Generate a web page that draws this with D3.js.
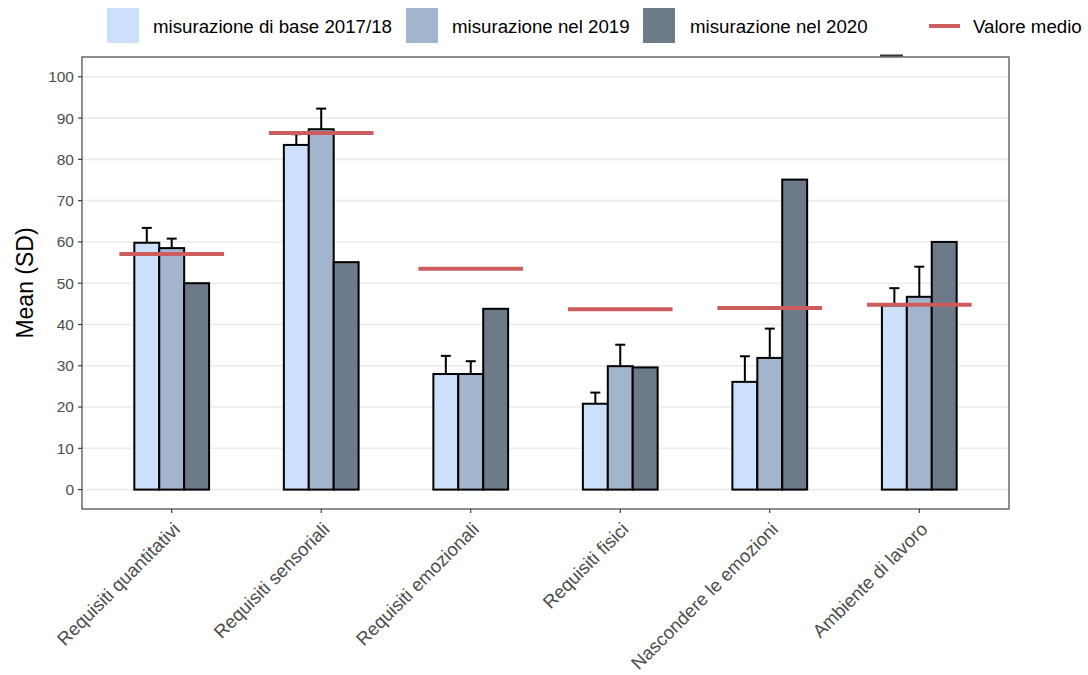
<!DOCTYPE html>
<html><head><meta charset="utf-8">
<script src="https://cdn.jsdelivr.net/npm/d3@7"></script>
<style>body{margin:0;background:#fff}svg{display:block;font-family:"Liberation Sans",Arial,sans-serif}</style>
</head><body><svg id="c" width="1088" height="675"></svg>
<script>
const categories = ["Requisiti quantitativi","Requisiti sensoriali","Requisiti emozionali","Requisiti fisici","Nascondere le emozioni","Ambiente di lavoro"];
const seriesNames = ["misurazione di base 2017/18","misurazione nel 2019","misurazione nel 2020"];
const valuesBase = [59.8, 83.5, 28.0, 20.8, 26.1, 44.6];
const values2019 = [58.5, 87.3, 28.0, 29.9, 31.9, 46.7];
const values2020 = [50.0, 55.1, 43.8, 29.6, 75.1, 60.0];
const sdBase = [3.6, 2.6, 4.4, 2.7, 6.2, 4.2];
const sd2019 = [2.3, 5.0, 3.1, 5.2, 7.1, 7.3];
const sd2020 = [null, null, null, null, null, null];
const meanValues = [57.1, 86.4, 53.5, 43.7, 44.0, 44.8];
const yTicks = [0,10,20,30,40,50,60,70,80,90,100];
const meanLabel = "Valore medio";
const yTitle = "Mean (SD)";

const colors = ["#cce0fc", "#a3b5cd", "#6c7a8a"];
const meanColor = "#cd5c5c";
const svg = d3.select("#c");
const P = {l: 82, r: 1009, t: 57, b: 509};

const step = (P.r - P.l) / 6.2;
const xc = d3.scalePoint().domain(categories).range([P.l + 0.6*step, P.r - 0.6*step]);
const xs = d3.scaleBand().domain(seriesNames).range([-0.25*step, 0.25*step]);
const y = d3.scaleLinear().domain([-4.7, 104.8]).range([P.b, P.t]);

const g = svg.append("g");
g.selectAll("line.grid").data(yTicks).join("line")
  .attr("x1", P.l).attr("x2", P.r).attr("y1", d=>y(d)).attr("y2", d=>y(d))
  .attr("stroke", "#ebebeb").attr("stroke-width", 1.6);

const series = [valuesBase, values2019, values2020];
const sds = [sdBase, sd2019, sd2020];
const rows = [];
categories.forEach((c,i)=>seriesNames.forEach((s,j)=>rows.push({c, s, j, v: series[j][i], sd: sds[j][i]})));

g.selectAll("rect.bar").data(rows).join("rect")
  .attr("x", d=>xc(d.c)+xs(d.s)).attr("width", xs.bandwidth())
  .attr("y", d=>y(d.v)).attr("height", d=>y(0)-y(d.v))
  .attr("fill", d=>colors[d.j]).attr("stroke", "#000").attr("stroke-width", 2);

const errs = rows.filter(d=>d.sd!=null);
const ex = d=>xc(d.c)+xs(d.s)+xs.bandwidth()/2;
const eb = g.selectAll("g.err").data(errs).join("g");
eb.append("line").attr("x1", ex).attr("x2", ex)
  .attr("y1", d=>y(d.v)).attr("y2", d=>y(d.v+d.sd)).attr("stroke", "#000").attr("stroke-width", 2);
eb.append("line").attr("x1", d=>ex(d)-5).attr("x2", d=>ex(d)+5)
  .attr("y1", d=>y(d.v+d.sd)).attr("y2", d=>y(d.v+d.sd)).attr("stroke", "#000").attr("stroke-width", 2);

g.selectAll("line.mean").data(categories).join("line")
  .attr("x1", c=>xc(c)-0.35*step).attr("x2", c=>xc(c)+0.35*step)
  .attr("y1", (c,i)=>y(meanValues[i])).attr("y2", (c,i)=>y(meanValues[i]))
  .attr("stroke", meanColor).attr("stroke-width", 4);

svg.append("rect").attr("x", P.l).attr("y", P.t).attr("width", P.r-P.l).attr("height", P.b-P.t)
  .attr("fill", "none").attr("stroke", "#333").attr("stroke-width", 1.1);
svg.append("line").attr("x1", 880).attr("x2", 903).attr("y1", 55.5).attr("y2", 55.5).attr("stroke", "#333").attr("stroke-width", 2);

const ya = svg.append("g");
ya.selectAll("line").data(yTicks).join("line")
  .attr("x1", P.l-4).attr("x2", P.l).attr("y1", d=>y(d)).attr("y2", d=>y(d)).attr("stroke", "#333").attr("stroke-width", 1.1);
ya.selectAll("text").data(yTicks).join("text")
  .attr("x", P.l-8).attr("y", d=>y(d)).attr("dy", "0.35em").attr("text-anchor", "end")
  .attr("font-size", 15.5).attr("fill", "#4d4d4d").text(d=>d);
svg.append("text").attr("transform", `translate(33,${(P.t+P.b)/2}) rotate(-90)`)
  .attr("text-anchor", "middle").attr("font-size", 23).attr("fill", "#000").text(yTitle);

const xa = svg.append("g");
xa.selectAll("line").data(categories).join("line")
  .attr("x1", d=>xc(d)).attr("x2", d=>xc(d)).attr("y1", P.b).attr("y2", P.b+4).attr("stroke", "#333").attr("stroke-width", 1.1);
xa.selectAll("text").data(categories).join("text")
  .attr("transform", d=>`translate(${xc(d)},${P.b+12}) rotate(-45)`)
  .attr("text-anchor", "end").attr("dy", "0.72em")
  .attr("font-size", 18.5).attr("fill", "#4d4d4d").text(d=>d);

const leg = svg.append("g");
const legItems = [
  {type:"rect", color: colors[0], label: seriesNames[0], x: 107, tx: 153},
  {type:"rect", color: colors[1], label: seriesNames[1], x: 406, tx: 452},
  {type:"rect", color: colors[2], label: seriesNames[2], x: 643, tx: 690},
  {type:"line", color: meanColor, label: meanLabel, x: 929, tx: 973}
];
legItems.forEach(it=>{
  if (it.type==="rect") leg.append("rect").attr("x", it.x).attr("y", 8).attr("width", 32).attr("height", 35).attr("fill", it.color);
  else leg.append("line").attr("x1", it.x).attr("x2", it.x+31).attr("y1", 26).attr("y2", 26).attr("stroke", it.color).attr("stroke-width", 4);
  leg.append("text").attr("x", it.tx).attr("y", 26).attr("dy", "0.35em").attr("font-size", 18.7).attr("fill", "#000").text(it.label);
});
</script></body></html>
